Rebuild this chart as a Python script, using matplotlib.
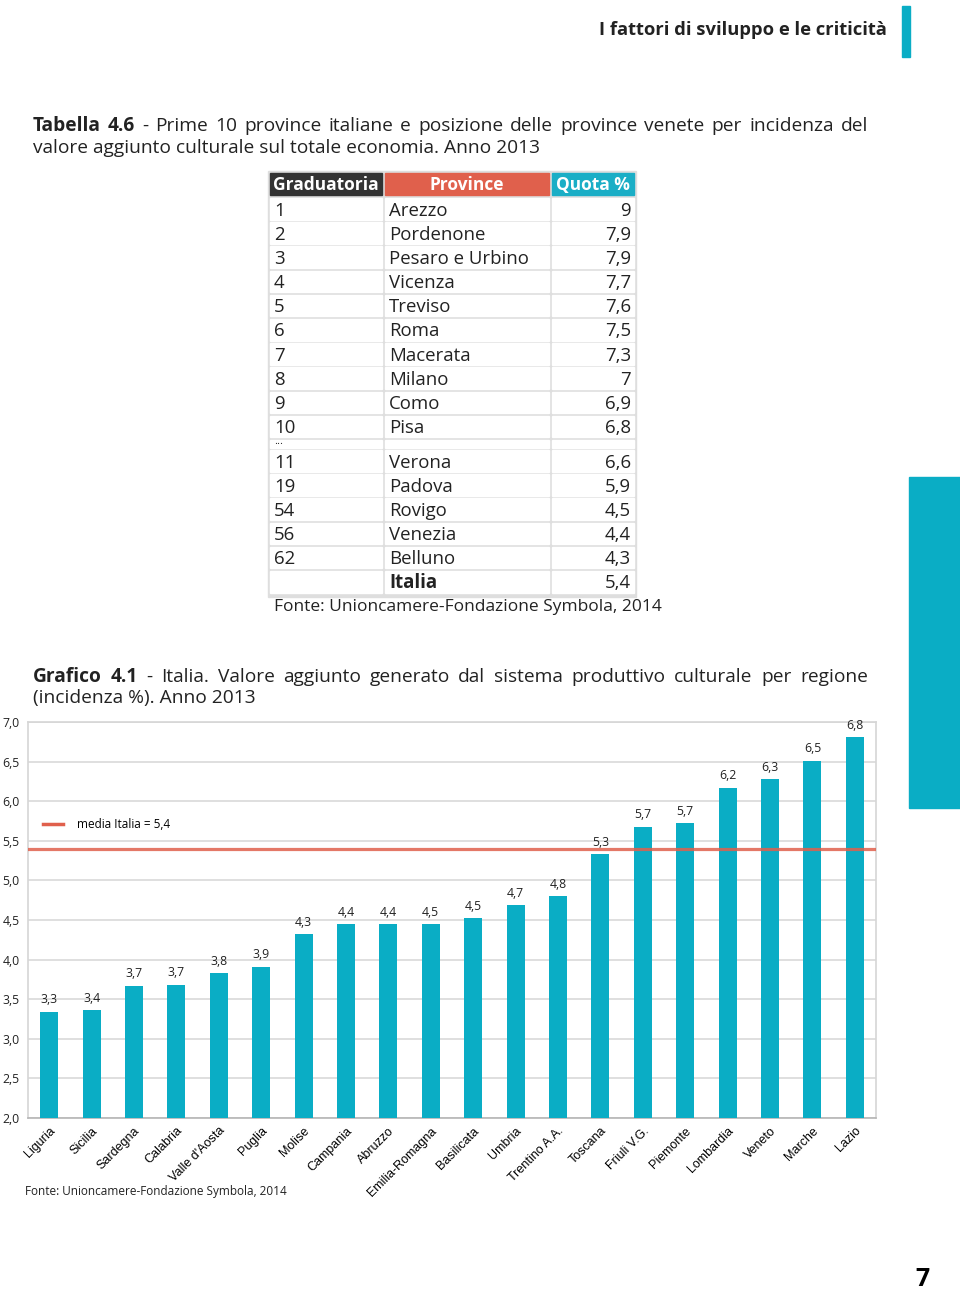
import numpy as np
import matplotlib
matplotlib.use('Agg')
import matplotlib.pyplot as plt
from matplotlib.patches import Rectangle
from matplotlib.lines import Line2D
import matplotlib.transforms as mtransforms

plt.rcParams['font.family'] = ['Open Sans', 'DejaVu Sans']

# table data
rank = ['1', '2', '3', '4', '5', '6', '7', '8', '9', '10',
        '11', '19', '54', '56', '62', '']
prov = ['Arezzo', 'Pordenone', 'Pesaro e Urbino', 'Vicenza', 'Treviso', 'Roma',
        'Macerata', 'Milano', 'Como', 'Pisa',
        'Verona', 'Padova', 'Rovigo', 'Venezia', 'Belluno', 'Italia']
quota = ['9', '7,9', '7,9', '7,7', '7,6', '7,5', '7,3', '7', '6,9', '6,8',
         '6,6', '5,9', '4,5', '4,4', '4,3', '5,4']
headers = ['Graduatoria', 'Province', 'Quota %']

# chart data
regions = ['Liguria', 'Sicilia', 'Sardegna', 'Calabria', "Valle d'Aosta", 'Puglia',
           'Molise', 'Campania', 'Abruzzo', 'Emilia-Romagna', 'Basilicata', 'Umbria',
           'Trentino A.A.', 'Toscana', 'Friuli V.G.', 'Piemonte', 'Lombardia',
           'Veneto', 'Marche', 'Lazio']
values = [3.34, 3.36, 3.67, 3.68, 3.83, 3.91, 4.32, 4.45, 4.45, 4.45,
          4.52, 4.69, 4.80, 5.33, 5.68, 5.72, 6.17, 6.28, 6.51, 6.81]
value_labels = ['3,3', '3,4', '3,7', '3,7', '3,8', '3,9', '4,3', '4,4', '4,4', '4,5',
                '4,5', '4,7', '4,8', '5,3', '5,7', '5,7', '6,2', '6,3', '6,5', '6,8']
italia = 5.40

cyan = '#0aadc5'
red = '#e0604c'
dark = '#222222'

fig = plt.figure(figsize=(9.6, 12.91), dpi=100)
bg = fig.add_axes([0, 0, 1, 1], zorder=0)
bg.set_xlim(0, 960)
bg.set_ylim(1291, 0)
bg.axis('off')
renderer = fig.canvas.get_renderer()


def justify(y, words, x0, x1, size):
    # words: list of (word, bold)
    texts = []
    widths = []
    for w, b in words:
        t = bg.text(0, y, w, fontsize=size, fontweight='bold' if b else 'normal',
                    va='center', ha='left', color=dark)
        texts.append(t)
        widths.append(t.get_window_extent(renderer).width)
    gap = (x1 - x0 - sum(widths)) / (len(words) - 1)
    x = x0
    for t, w in zip(texts, widths):
        t.set_x(x)
        x += w + gap


# page header
bg.text(887, 30, 'I fattori di sviluppo e le criticità', fontsize=13.2,
        fontweight='bold', ha='right', va='center', color=dark)
bg.add_patch(Rectangle((902, 6), 8, 51, color=cyan))
bg.add_patch(Rectangle((909, 477), 51, 331, color=cyan))
bg.text(922, 1280, '7', fontsize=18, fontweight='bold', ha='center', va='center', color='black')

# table title
line1 = 'Prime 10 province italiane e posizione delle province venete per incidenza del'.split()
justify(126, [('Tabella', True), ('4.6', True), ('-', False)] + [(w, False) for w in line1],
        33, 868, 13.8)
bg.text(33, 148, 'valore aggiunto culturale sul totale economia. Anno 2013',
        fontsize=13.8, va='center', ha='left', color=dark)

# table
cols = [(270, 382), (385, 549), (552, 634)]
head_col = ['#333333', red, '#1aaec6']
bg.add_patch(Rectangle((268, 171), 368, 426, color='#dedede', zorder=1))
for (xa, xb), c, h in zip(cols, head_col, headers):
    bg.add_patch(Rectangle((xa, 173), xb - xa, 22, color=c, zorder=2))
    bg.text((xa + xb) / 2, 185, h, fontsize=12.5, fontweight='bold', color='white',
            ha='center', va='center', zorder=3)

row_y = list(198 + 24.2 * np.arange(10)) + list(450 + 24.2 * np.arange(6))
for i, y in enumerate(row_y):
    for xa, xb in cols:
        bg.add_patch(Rectangle((xa, y), xb - xa, 21.5, color='white', zorder=2))
    yc = y + 12.5
    bg.text(274, yc, rank[i], fontsize=13.4, ha='left', va='center', color=dark, zorder=3)
    bg.text(389, yc, prov[i], fontsize=13.4, ha='left', va='center', color=dark, zorder=3,
            fontweight='bold' if prov[i] == 'Italia' else 'normal')
    bg.text(631, yc, quota[i], fontsize=13.4, ha='right', va='center', color=dark, zorder=3)
# separator row
for xa, xb in cols:
    bg.add_patch(Rectangle((xa, 440), xb - xa, 7.5, color='white', zorder=2))
bg.text(274, 441, '...', fontsize=8, ha='left', va='center', color=dark, zorder=3)
bg.text(274, 607, 'Fonte: Unioncamere-Fondazione Symbola, 2014', fontsize=12.5,
        ha='left', va='center', color=dark)

# chart title
line1 = 'Italia. Valore aggiunto generato dal sistema produttivo culturale per regione'.split()
justify(677, [('Grafico', True), ('4.1', True), ('-', False)] + [(w, False) for w in line1],
        33, 868, 13.8)
bg.text(33, 698, '(incidenza %). Anno 2013', fontsize=13.8, va='center', ha='left', color=dark)

# bar chart
ax = fig.add_axes([28 / 960, 1 - 1118 / 1291, 848 / 960, 396 / 1291], zorder=2)
x = np.arange(len(regions))
ax.bar(x, values, width=0.42, color=cyan, zorder=3)
ax.axhline(italia, color=red, lw=2.3, alpha=0.85, zorder=4)
for i, (v, lab) in enumerate(zip(values, value_labels)):
    ax.annotate(lab, (i, v), xytext=(0, 8.6), textcoords='offset points',
                ha='center', va='center', fontsize=8.8, color=dark)
ax.set_xlim(-0.5, len(regions) - 0.5)
ax.set_ylim(2, 7)
yt = np.arange(2, 7.01, 0.5)
ax.set_yticks(yt)
ax.set_yticklabels([f'{t:.1f}'.replace('.', ',') for t in yt], fontsize=8.8, color=dark)
ax.grid(axis='y', color='#dcdcdc', lw=1.3)
ax.set_axisbelow(True)
for s in ax.spines.values():
    s.set_color('#d6d6d6')
    s.set_linewidth(1.2)
ax.spines['bottom'].set_color('#b5b5b5')
ax.tick_params(length=0)
ax.tick_params(axis='y', pad=6)
ax.set_xticks(x)
ax.set_xticklabels(regions, rotation=45, ha='right', va='center', rotation_mode='anchor',
                   fontsize=9, family=['Liberation Sans', 'DejaVu Sans'])
ax.tick_params(axis='x', pad=8)
offset = mtransforms.ScaledTranslation(3 / 72, 0, fig.dpi_scale_trans)
for lab in ax.get_xticklabels():
    lab.set_transform(lab.get_transform() + offset)

handle = Line2D([], [], color=red, lw=2.5)
ax.legend([handle], ['media Italia = 5,4'], loc='center left', frameon=False,
          bbox_to_anchor=((43 - 28) / 848, (1118 - 825) / 396), borderaxespad=0,
          borderpad=0, handlelength=1.7, handletextpad=1.2, prop={'size': 8.5})

bg.text(25, 1191, 'Fonte: Unioncamere-Fondazione Symbola, 2014', fontsize=8.5,
        ha='left', va='center', color=dark)

fig.savefig('out.png', dpi=100)
